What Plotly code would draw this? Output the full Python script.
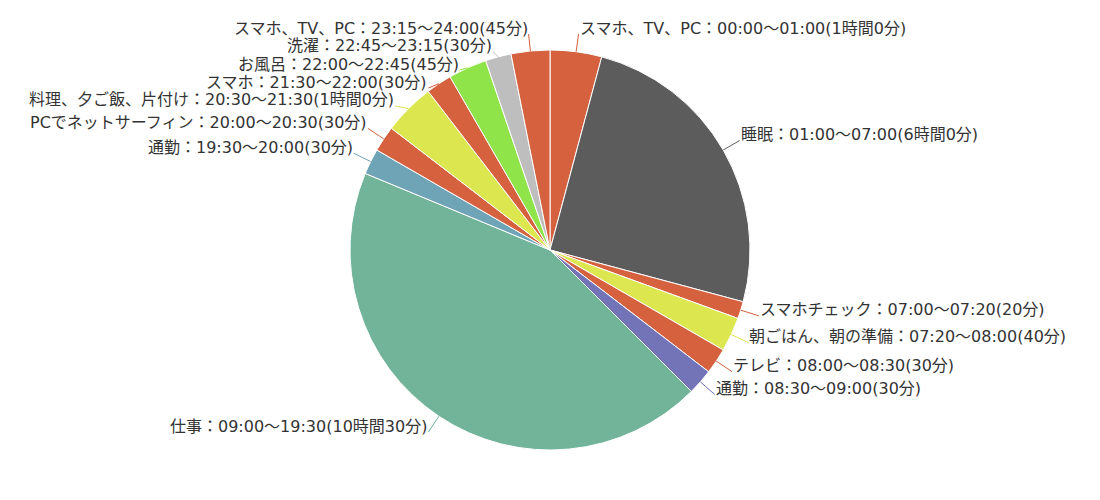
import math
import plotly.graph_objects as go

labels = ["スマホ、TV、PC", "睡眠", "スマホチェック", "朝ごはん、朝の準備", "テレビ", "通勤",
          "仕事", "通勤", "PCでネットサーフィン", "料理、夕ご飯、片付け", "スマホ", "お風呂",
          "洗濯", "スマホ、TV、PC"]
times = ["00:00～01:00", "01:00～07:00", "07:00～07:20", "07:20～08:00", "08:00～08:30",
         "08:30～09:00", "09:00～19:30", "19:30～20:00", "20:00～20:30", "20:30～21:30",
         "21:30～22:00", "22:00～22:45", "22:45～23:15", "23:15～24:00"]
minutes = [60, 360, 20, 40, 30, 30, 630, 30, 30, 60, 30, 45, 30, 45]
colors = ["#D5613F", "#5C5C5C", "#D5613F", "#DCE64E", "#D5613F", "#7373B8", "#72B49A",
          "#6FA3B6", "#D5613F", "#DCE64E", "#D5613F", "#8FE44A", "#BEBEBE", "#D5613F"]


def fmt(m):
    if m >= 60:
        return f"{m // 60}時間{m % 60}分"
    return f"{m}分"


texts = [f"{l}：{t}({fmt(m)})" for l, t, m in zip(labels, times, minutes)]

# geometry (figure pixels)
W, H = 1100, 500
CX, CY, R = 542, 242, 200
LINE_LEN = 19
GAP = 18
YMIN = 26
YSHIFT = 6
FONT = dict(family="DejaVu Sans, Noto Sans CJK JP", size=16, color="#333333")

fig = go.Figure(go.Pie(
    labels=[str(i) for i in range(len(labels))],
    values=minutes,
    text=texts,
    textinfo="none",
    sort=False,
    direction="clockwise",
    rotation=0,
    marker=dict(colors=colors, line=dict(color="white", width=1)),
    domain=dict(x=[0, (2 * CX) / W],
                y=[1 - (CY + R) / H, 1 - (CY - R) / H]),
    showlegend=False,
    hoverinfo="text",
))

# label anchor points derived from slice mid-angles
total = sum(minutes)
cum = 0
items = []
for txt, v, col in zip(texts, minutes, colors):
    a = (cum + v / 2) / total * 2 * math.pi
    cum += v
    s, c = math.sin(a), math.cos(a)
    items.append(dict(txt=txt, col=col, right=s >= 0,
                      x0=CX + R * s, y0=CY - R * c,
                      x1=CX + (R + LINE_LEN) * s, y1=CY - (R + LINE_LEN) * c))
for it in items:
    it["ly"] = it["y1"]

# spread labels on each side so that they do not overlap
for side in (True, False):
    grp = sorted([it for it in items if it["right"] == side], key=lambda d: d["y1"])
    for _ in range(300):
        moved = False
        for p, q in zip(grp, grp[1:]):
            d = q["ly"] - p["ly"]
            if d < GAP - 0.01:
                push = (GAP - d) / 2
                p["ly"] -= push
                q["ly"] += push
                moved = True
        if not moved:
            break
    prev = None
    for it in grp:
        lo = YMIN if prev is None else prev["ly"] + GAP
        it["ly"] = max(it["ly"], lo)
        prev = it

shapes = []
annotations = []
for it in items:
    shapes.append(dict(type="line", xref="paper", yref="paper",
                       x0=it["x0"] / W, y0=1 - it["y0"] / H,
                       x1=it["x1"] / W, y1=1 - it["ly"] / H,
                       line=dict(color=it["col"], width=1)))
    annotations.append(dict(x=it["x1"] / W, y=1 - it["ly"] / H, xref="paper", yref="paper",
                            text=it["txt"], showarrow=False,
                            xanchor="left" if it["right"] else "right",
                            yanchor="middle", yshift=YSHIFT, borderpad=0,
                            font=FONT))

fig.update_layout(width=W, height=H, margin=dict(l=0, r=0, t=0, b=0),
                  paper_bgcolor="white", plot_bgcolor="white",
                  shapes=shapes, annotations=annotations)
fig.write_html("out.html")
